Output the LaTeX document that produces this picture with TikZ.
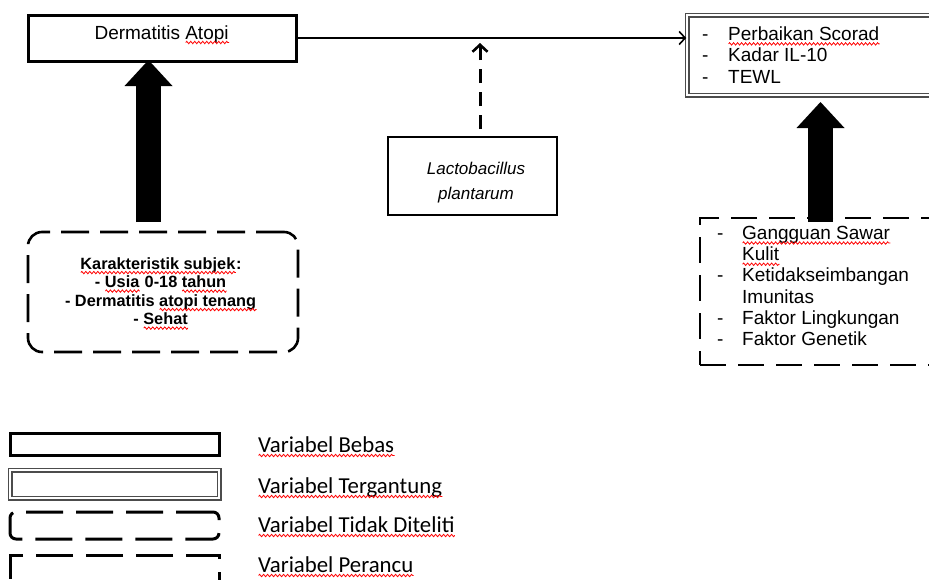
\documentclass[tikz,border=0pt]{standalone}
\usepackage{fontspec}
\setmainfont{Liberation Sans}
\newfontfamily\legendfont{Carlito}
\usetikzlibrary{arrows.meta,decorations.pathmorphing}
\newlength\spwlen
\newcommand\spw[1]{\setbox0\hbox{#1}\spwlen=\wd0\rlap{\copy0}\smash{\raisebox{-3.5pt}{\tikz[x=1pt,y=1pt,baseline=0pt]{\draw[red, solid, sharp corners, line width=0.8pt, decorate, decoration={zigzag, amplitude=1.2pt, segment length=4pt}] (0pt,0pt) -- (\spwlen,0pt);}}}}
\tikzset{
  solidbox/.style={draw=black, line width=3pt, fill=white, inner sep=0pt},
  dblbox/.style={draw=gray!60!black, double=white, double distance=2pt, line width=1.5pt, fill=white, inner sep=0pt},
  plainbox/.style={draw=black, line width=2.4pt, fill=white, inner sep=0pt},
  roundbox/.style={draw=black, line width=2.6pt, rounded corners=14pt, dash pattern=on 28pt off 11pt, inner sep=0pt},
  confbox/.style={draw=black, line width=2.6pt, dash pattern=on 26pt off 12pt, inner sep=0pt},
  legdash/.style={draw=black, line width=3pt, dash pattern=on 37pt off 13pt, inner sep=0pt},
  blockarrow/.style={line width=25pt, -{Triangle[width=48pt,length=26pt,line width=0pt]}},
  mainarrow/.style={line width=1.6pt, -{Straight Barb[length=6pt,width=13pt,line width=1.6pt]}},
  dasharrow/.style={line width=3pt, dash pattern=on 14pt off 9pt, -{Straight Barb[length=7pt,width=15pt,line width=2.6pt]}},
  legtext/.style={anchor=base west, font=\legendfont\fontsize{22.8}{24}\selectfont, inner sep=0pt},
}
\begin{document}
\begin{tikzpicture}[x=1pt,y=-1pt]
\useasboundingbox (0,0) rectangle (929,579);
\clip (0,0) rectangle (929,579);

% main boxes
\node[solidbox, minimum width=268pt, minimum height=46pt, text height=24pt, text depth=22pt,
      font=\fontsize{19}{21}\selectfont] (derm) at (162,38) {Dermatitis \spw{Atopi}};
\node[dblbox, minimum width=248pt, minimum height=80pt] (res) at (811,55) {};
\node[anchor=west, align=left, inner sep=0pt, font=\fontsize{19}{21.5}\selectfont] (restxt) at (702,55)
  {\makebox[26pt][l]{-}\spw{Perbaikan Scorad}\\\makebox[26pt][l]{-}Kadar IL-10\\\makebox[26pt][l]{-}TEWL};

\node[plainbox, minimum width=169pt, minimum height=78pt] (lacto) at (472.5,176) {};
\node[align=center, inner sep=0pt, font=\itshape\fontsize{17}{25}\selectfont] (lactotxt) at (476,183)
  {Lactobacillus\\plantarum};

\node[roundbox, minimum width=270pt, minimum height=120pt] (karak) at (163,292) {};
\node[align=center, inner sep=0pt, font=\bfseries\fontsize{16.3}{18.5}\selectfont] (karaktxt) at (161,291)
  {\spw{Karakteristik subjek}:\\- \spw{Usia} 0-18 \spw{tahun}\\- Dermatitis \spw{atopi tenang}\\- \spw{Sehat}};

\node[confbox, minimum width=240pt, minimum height=147pt] (conf) at (820,291.5) {};
\node[anchor=west, align=left, inner sep=0pt, font=\fontsize{19}{21.2}\selectfont] (conftxt) at (717,286)
  {\makebox[25pt][l]{-}\spw{Gangguan Sawar}\\\hspace*{25pt}\spw{Kulit}\\\makebox[25pt][l]{-}Ketidakseimbangan\\\hspace*{25pt}Imunitas\\\makebox[25pt][l]{-}Faktor Lingkungan\\\makebox[25pt][l]{-}Faktor Genetik};

% connectors
\coordinate (la) at (148.5,222);
\coordinate (lt) at (148.5,60);
\coordinate (ra) at (820.5,222);
\coordinate (rt) at (820.5,102);
\coordinate (dtip) at (480,43);
\coordinate (dbase) at (480,129);

\draw[mainarrow] (derm.east) -- (res.west |- derm.east);
\draw[dasharrow] (dbase) -- (dtip);
\draw[blockarrow] (la) -- (lt);
\draw[blockarrow] (ra) -- (rt);

% legend
\node[solidbox, minimum width=209pt, minimum height=22pt] (l1) at (114.5,444) {};
\node[dblbox, minimum width=209pt, minimum height=28pt] (l2) at (114.5,484) {};
\node[legdash, rounded corners=6pt, minimum width=209pt, minimum height=27pt] (l3) at (114.5,525.5) {};
\node[legdash, minimum width=209pt, minimum height=45pt] (l4) at (114.5,577.5) {};

\node[legtext] (t1) at (258,452) {\spw{Variabel Bebas}};
\node[legtext] (t2) at (258,493) {\spw{Variabel Tergantung}};
\node[legtext] (t3) at (258,532) {\spw{Variabel Tidak Diteliti}};
\node[legtext] (t4) at (258,572) {\spw{Variabel Perancu}};
\end{tikzpicture}
\end{document}
